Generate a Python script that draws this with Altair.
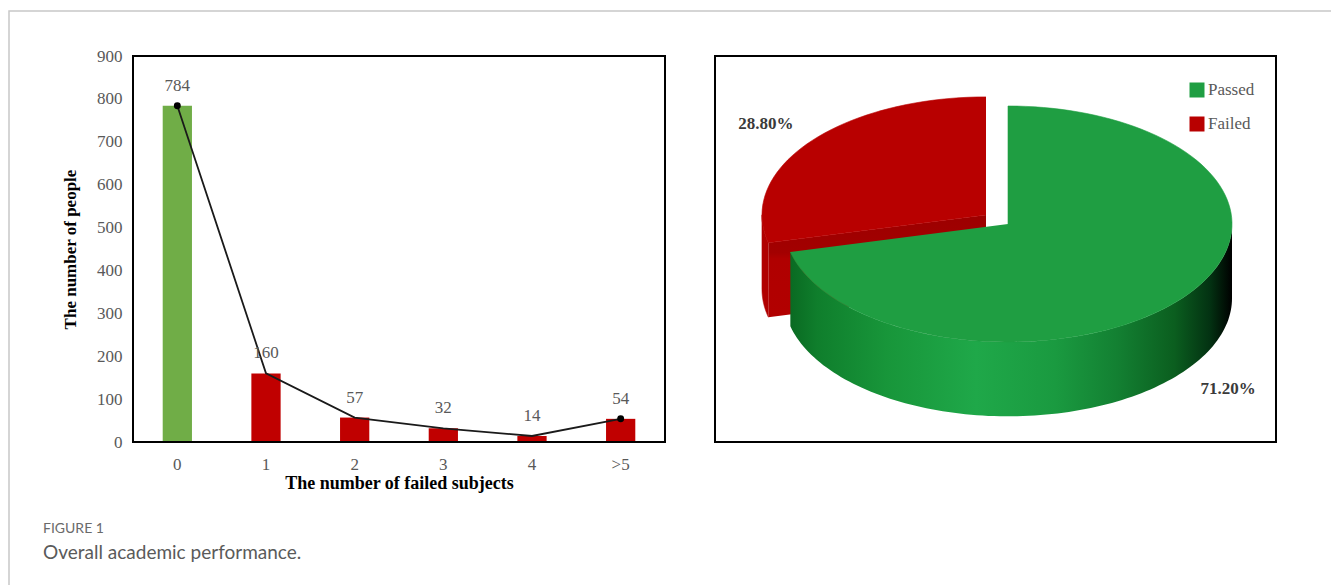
import altair as alt
import numpy as np
import pandas as pd

# ---- data -------------------------------------------------------------
failed_subjects = ["0", "1", "2", "3", "4", ">5"]
people = [784, 160, 57, 32, 14, 54]
bar_group = ["Passed", "Failed", "Failed", "Failed", "Failed", "Failed"]

pie_status = ["Passed", "Failed"]
pie_percent = [71.2, 28.8]

caption_label = "FIGURE 1"
caption_text = "Overall academic performance."

# ---- layout & style ---------------------------------------------------
W, H = 1331, 585
SERIF = "Liberation Serif"
SANS = "Lato"
GREY = "#595959"
BAR_LEFT, BAR_RIGHT, PLOT_TOP, PLOT_BOTTOM = 133, 665, 56, 442
PIE_LEFT, PIE_RIGHT = 715, 1276
# unit pie coordinates (u, v in [-1, 1]) are mapped onto the top-face ellipse
PIE_U_RANGE = [784, 1232]
PIE_V_RANGE = [106, 342]
PIE_DEPTH = 0.63
PIE_EXPLODE = {"Passed": 0.0, "Failed": 0.125}
PIE_TOP = {"Passed": "#1F9E42", "Failed": "#B80000"}
PIE_RED_WALL = "#B00000"
LABEL_R = 1.25
LEGEND_ROWS = [90, 124]

one = pd.DataFrame({"k": [0]})

# ---- bar + line chart -------------------------------------------------
bar_df = pd.DataFrame({
    "subjects": failed_subjects,
    "people": people,
    "group": bar_group,
    "pos": list(range(len(people))),
})

bx = alt.X(
    "subjects:N", sort=failed_subjects,
    scale=alt.Scale(range=[BAR_LEFT, BAR_RIGHT], paddingInner=0.67, paddingOuter=0.335),
    axis=alt.Axis(
        orient="bottom", offset=PLOT_BOTTOM - H, title="The number of failed subjects",
        labelAngle=0, domain=False, ticks=False, tickSize=0, grid=False,
        labelPadding=14, labelFont=SERIF, labelFontSize=17, labelColor=GREY,
        titleFont=SERIF, titleFontSize=18, titleFontWeight="bold", titleColor="black",
        titlePadding=2,
    ),
)
by = alt.Y(
    "people:Q",
    scale=alt.Scale(domain=[0, 900], range=[PLOT_BOTTOM, PLOT_TOP], nice=False),
    axis=alt.Axis(
        orient="left", offset=-BAR_LEFT, values=list(range(0, 901, 100)),
        title="The number of people", domain=False, ticks=False, tickSize=0, grid=False,
        labelPadding=11, labelFont=SERIF, labelFontSize=17, labelColor=GREY,
        titleFont=SERIF, titleFontSize=17, titleFontWeight="bold", titleColor="black",
        titlePadding=17,
    ),
)

bars = alt.Chart(bar_df).mark_bar().encode(
    x=bx, y=by,
    color=alt.Color("group:N", scale=alt.Scale(domain=["Passed", "Failed"],
                                               range=["#70AD47", "#C00000"]), legend=None),
)
trend = alt.Chart(bar_df).mark_line(color="#1A1A1A", strokeWidth=1.8).encode(
    x=bx, y=by, order=alt.Order("pos:Q"))
ends = alt.Chart(bar_df).transform_filter(
    alt.FieldOneOfPredicate(field="subjects", oneOf=[failed_subjects[0], failed_subjects[-1]])
).mark_circle(color="black", size=48, opacity=1).encode(x=bx, y=by)
values = alt.Chart(bar_df).mark_text(
    dy=-20, font=SERIF, fontSize=17, color=GREY, baseline="middle"
).encode(x=bx, y=by, text="people:Q")

bar_block = alt.layer(bars, trend, ends, values)

# ---- exploded 3-D pie -------------------------------------------------
rows = []
labels = []
start = 0.0
for status, pct in zip(pie_status, pie_percent):
    a0 = start
    a1 = start + 2 * np.pi * pct / 100
    start = a1
    mid = (a0 + a1) / 2
    e = PIE_EXPLODE[status]
    ou, ov = e * np.sin(mid), -e * np.cos(mid)
    n = max(12, int(160 * pct / 100))

    def rim(t, dz=0.0):
        return ou + np.sin(t), ov - np.cos(t) + dz

    def add(part, pts):
        pid = f"{status}-{part}"
        for k, (u, v) in enumerate(pts):
            rows.append({"status": status, "part": part, "poly": pid, "k": k, "u": u, "v": v})

    # top face
    add("top", [(ou, ov)] + [rim(t) for t in np.linspace(a0, a1, n)])
    # curved wall facing the viewer
    lo, hi = max(a0, np.pi / 2), min(a1, 3 * np.pi / 2)
    if hi > lo:
        ts = np.linspace(lo, hi, n)
        add("side", [rim(t) for t in ts] + [rim(t, PIE_DEPTH) for t in ts[::-1]])
    # radial cut faces facing the viewer
    for t, visible in ((a0, np.sin(a0) < -1e-9), (a1, np.sin(a1) > 1e-9)):
        if visible:
            add("cut", [(ou, ov), rim(t), rim(t, PIE_DEPTH), (ou, ov + PIE_DEPTH)])

    lu = ou + LABEL_R * np.sin(mid)
    lv = ov - LABEL_R * np.cos(mid) + (PIE_DEPTH if -np.cos(mid) > 0 else 0.0)
    labels.append({"status": status, "u": lu, "v": lv, "label": f"{pct:.2f}%"})

pie_df = pd.DataFrame(rows)
pie_lab_df = pd.DataFrame(labels)

pu = alt.X("u:Q", scale=alt.Scale(domain=[-1, 1], range=PIE_U_RANGE, nice=False, zero=False), axis=None)
pv = alt.Y("v:Q", scale=alt.Scale(domain=[-1, 1], range=PIE_V_RANGE, nice=False, zero=False), axis=None)
pie_scale = alt.Scale(domain=pie_status, range=[PIE_TOP[s] for s in pie_status])


def faces(status, parts):
    return alt.Chart(pie_df).transform_filter(
        alt.FieldEqualPredicate(field="status", equal=status)
    ).transform_filter(alt.FieldOneOfPredicate(field="part", oneOf=parts))


green_wall = alt.LinearGradient(
    gradient="linear", x1=0, x2=1, y1=0, y2=0,
    stops=[
        alt.GradientStop(color="#0A6A22", offset=0.0),
        alt.GradientStop(color="#0F7E2C", offset=0.06),
        alt.GradientStop(color="#18963A", offset=0.22),
        alt.GradientStop(color="#1FA849", offset=0.42),
        alt.GradientStop(color="#1A9A40", offset=0.6),
        alt.GradientStop(color="#138032", offset=0.74),
        alt.GradientStop(color="#0B5E1F", offset=0.87),
        alt.GradientStop(color="#033212", offset=0.95),
        alt.GradientStop(color="#000000", offset=1.0),
    ],
)
red_cut_shade = alt.LinearGradient(
    gradient="linear", x1=0, x2=0, y1=0, y2=1,
    stops=[
        alt.GradientStop(color="#9C0000", offset=0.0),
        alt.GradientStop(color="#A30000", offset=0.37),
        alt.GradientStop(color="#B00000", offset=0.43),
        alt.GradientStop(color="#B20000", offset=1.0),
    ],
)

red_cut = faces("Failed", ["cut"]).mark_line(fill=red_cut_shade, strokeWidth=0).encode(
    x=pu, y=pv, detail="poly:N", order="k:Q")
red_side = faces("Failed", ["side"]).mark_line(fill=PIE_RED_WALL, stroke=PIE_RED_WALL,
                                               strokeWidth=0.6).encode(
    x=pu, y=pv, detail="poly:N", order="k:Q")
green_side = faces("Passed", ["side"]).mark_line(fill=green_wall, strokeWidth=0).encode(
    x=pu, y=pv, detail="poly:N", order="k:Q")


def top_face(status):
    return faces(status, ["top"]).mark_line(stroke=PIE_TOP[status], strokeWidth=0.6).encode(
        x=pu, y=pv, detail="poly:N", order="k:Q",
        fill=alt.Fill("status:N", scale=pie_scale, legend=None),
    )


pie_text = alt.Chart(pie_lab_df).mark_text(
    font=SERIF, fontSize=17, fontWeight="bold", color="#3A3A3A"
).encode(x=pu, y=pv, text="label:N")

pie_block = alt.layer(red_cut, red_side, top_face("Failed"), green_side, top_face("Passed"), pie_text)

# ---- pie legend -----------------------------------------------------------
legend_df = pd.DataFrame({"status": pie_status})
ly = alt.Y("status:N", sort=pie_status,
           scale=alt.Scale(domain=pie_status, range=LEGEND_ROWS, padding=0), axis=None)
legend_keys = alt.Chart(legend_df).mark_square(size=225, opacity=1).encode(
    x=alt.value(1197), y=ly,
    color=alt.Color("status:N", scale=pie_scale, legend=None),
)
legend_text = alt.Chart(legend_df).mark_text(
    align="left", baseline="middle", font=SERIF, fontSize=17, color=GREY
).encode(x=alt.value(1208), y=ly, text="status:N")
legend_block = alt.layer(legend_keys, legend_text)

# ---- frames and caption -------------------------------------------------
outer_frame = alt.Chart(one).mark_rect(fillOpacity=0, stroke="#C8C8C8", strokeWidth=1.5).encode(
    x=alt.value(9), x2=alt.value(W + 20), y=alt.value(11), y2=alt.value(H + 20))
bar_frame = alt.Chart(one).mark_rect(fillOpacity=0, stroke="black", strokeWidth=2).encode(
    x=alt.value(BAR_LEFT), x2=alt.value(BAR_RIGHT), y=alt.value(PLOT_TOP), y2=alt.value(PLOT_BOTTOM))
pie_frame = alt.Chart(one).mark_rect(fillOpacity=0, stroke="black", strokeWidth=2).encode(
    x=alt.value(PIE_LEFT), x2=alt.value(PIE_RIGHT), y=alt.value(PLOT_TOP), y2=alt.value(PLOT_BOTTOM))
cap1 = alt.Chart(one).mark_text(
    text=caption_label, align="left", baseline="middle", font=SANS, fontSize=14, color="#6A6A6A"
).encode(x=alt.value(43), y=alt.value(529))
cap2 = alt.Chart(one).mark_text(
    text=caption_text, align="left", baseline="middle", font=SANS, fontSize=19, color="#5A5A5A"
).encode(x=alt.value(43), y=alt.value(553))

chart = alt.layer(
    outer_frame, bar_block, bar_frame, pie_block, legend_block, pie_frame, cap1, cap2
).resolve_scale(
    x="independent", y="independent", color="independent"
).properties(
    width=W, height=H, autosize=alt.AutoSizeParams(type="none"), padding=0, background="white"
).configure_view(strokeWidth=0)

chart.save("out.html", embed_options={"renderer": "svg", "actions": False})
